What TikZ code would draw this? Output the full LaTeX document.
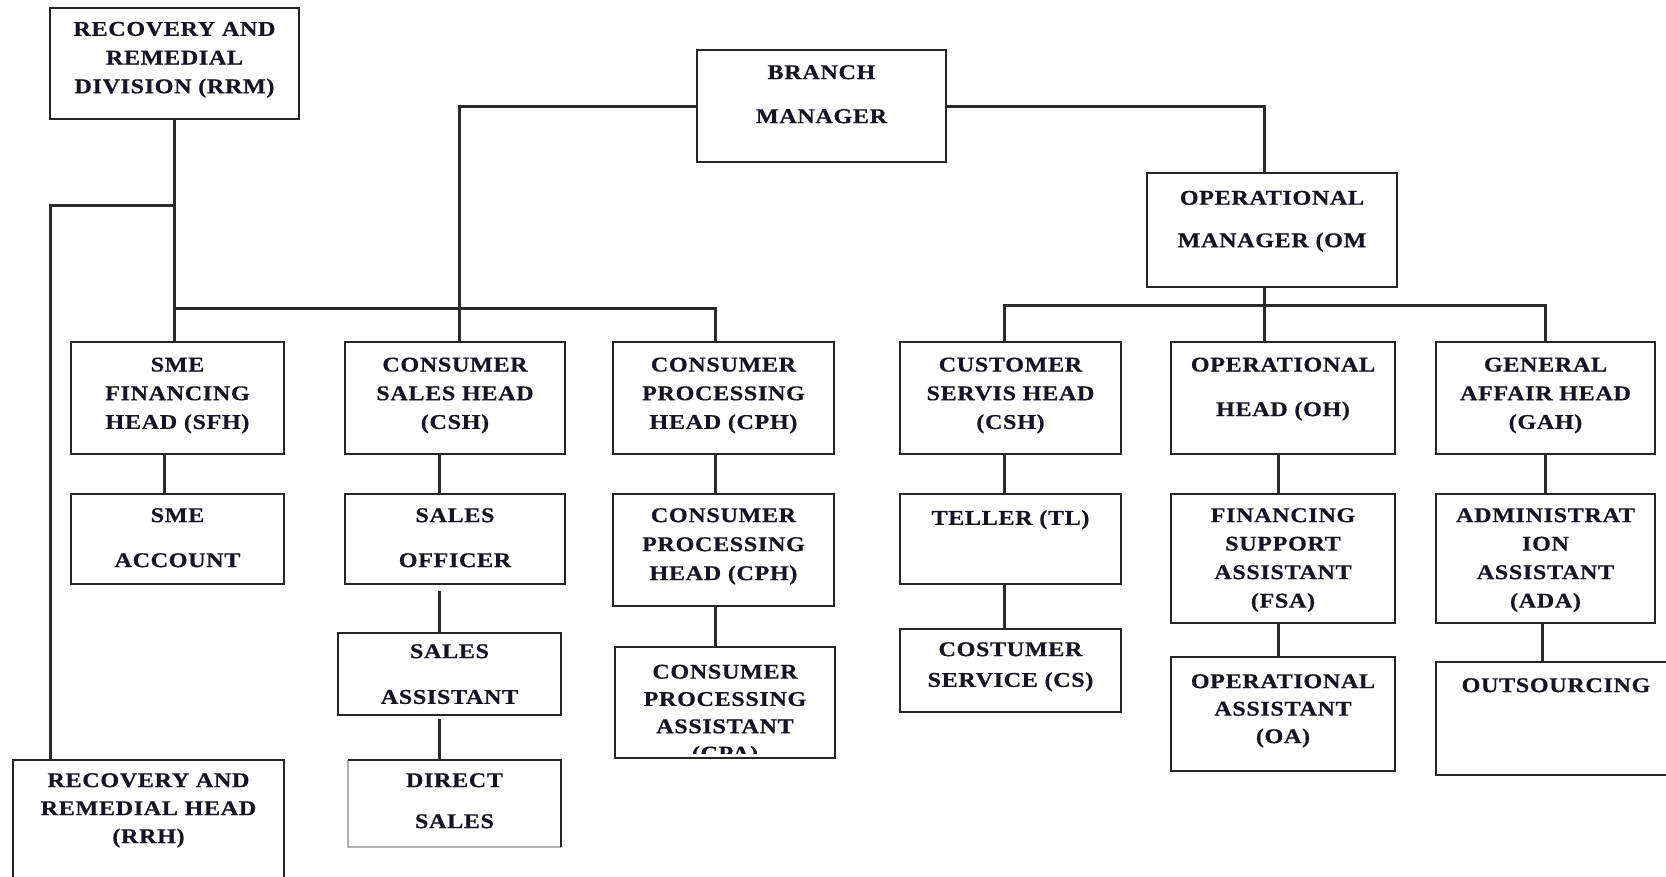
\documentclass[tikz,border=0pt]{standalone}
\usepackage{fontspec}
\newfontfamily\lblfont{Liberation Serif}[FakeStretch=1.15, LetterSpace=3, BoldFeatures={FakeBold=0.5}]
\definecolor{boxc}{HTML}{252525}
\definecolor{linec}{HTML}{2A2A2A}
\definecolor{txtc}{HTML}{141424}
\definecolor{lightc}{HTML}{B0B0B0}
\newcommand\mkbox[5]{\node[box, minimum width={#4-#2}, minimum height={#5-#3}] (#1) at (#2,#3) {};}
\newcommand\mklbl[5]{\node[lbl=#4] (#1-t) at (#2,#3) {#5};}
\begin{document}
\begin{tikzpicture}[x=1pt,y=-1pt,
  box/.style={draw=boxc, line width=2.6pt, inner sep=0pt, outer sep=0pt, anchor=north west},
  lbl/.style={text=txtc, align=center, anchor=north, inner sep=0pt, font=\lblfont\bfseries\fontsize{21}{#1}\selectfont},
  lbl/.default=28.7,
  wire/.style={draw=linec, line width=3pt}]
\useasboundingbox (0,0) rectangle (1666,876);
\clip (0,0) rectangle (1666,876);
\fill[white] (0,0) rectangle (1666,876);

% boxes
\mkbox{rrm}{50}{8}{299}{119}
\mkbox{bm}{697}{50}{946}{162}
\mkbox{om}{1147}{173}{1397}{287}
\mkbox{sfh}{71}{342}{284}{454}
\mkbox{csh}{345}{342}{565}{454}
\mkbox{cph}{613}{342}{834}{454}
\mkbox{cus}{900}{342}{1121}{454}
\mkbox{oh}{1171}{342}{1395}{454}
\mkbox{gah}{1436}{342}{1655}{454}
\mkbox{sme}{71}{494}{284}{584}
\mkbox{so}{345}{494}{565}{584}
\mkbox{cphb}{613}{494}{834}{606}
\mkbox{tl}{900}{494}{1121}{584}
\mkbox{fsa}{1171}{494}{1395}{623}
\mkbox{ada}{1436}{494}{1655}{623}
\mkbox{sa}{338}{633}{561}{715}
\mkbox{cpa}{615}{647}{835}{758}
\mkbox{cs}{900}{629}{1121}{712}
\mkbox{oa}{1171}{657}{1395}{771}
\mkbox{out}{1436}{662}{1676}{775}
\mkbox{rrh}{13}{760}{284}{900}
\node[inner sep=0pt, outer sep=0pt, anchor=north west, minimum width=213, minimum height=87] (ds) at (348,760) {};
\draw[lightc, line width=2pt] (ds.north west) -- (ds.south west) -- (ds.south east);
\draw[boxc, line width=2.6pt] (ds.south east) -- (ds.north east) -- (ds.north west);

% labels
\mklbl{rrm}{174.5}{21.7}{28.7}{RECOVERY AND\\REMEDIAL\\DIVISION (RRM)}
\mklbl{bm}{821.5}{65}{44}{BRANCH\\MANAGER}
\mklbl{om}{1272}{190.6}{42.5}{OPERATIONAL\\MANAGER (OM}
\mklbl{sfh}{177.5}{357.4}{28.7}{SME\\FINANCING\\HEAD (SFH)}
\mklbl{csh}{455}{357.4}{28.7}{CONSUMER\\SALES HEAD\\(CSH)}
\mklbl{cph}{723.5}{357.4}{28.7}{CONSUMER\\PROCESSING\\HEAD (CPH)}
\mklbl{cus}{1010.5}{357.4}{28.7}{CUSTOMER\\SERVIS HEAD\\(CSH)}
\mklbl{oh}{1283}{357.4}{44.6}{OPERATIONAL\\HEAD (OH)}
\mklbl{gah}{1545.5}{357.4}{28.7}{GENERAL\\AFFAIR HEAD\\(GAH)}
\mklbl{sme}{177.5}{508}{45}{SME\\ACCOUNT}
\mklbl{so}{455}{508}{45}{SALES\\OFFICER}
\mklbl{cphb}{723.5}{508}{29}{CONSUMER\\PROCESSING\\HEAD (CPH)}
\mklbl{tl}{1010.5}{510}{28.7}{TELLER (TL)}
\mklbl{fsa}{1283}{508}{28.5}{FINANCING\\SUPPORT\\ASSISTANT\\(FSA)}
\mklbl{ada}{1545.5}{508}{28.5}{ADMINISTRAT\\ION\\ASSISTANT\\(ADA)}
\mklbl{sa}{449.5}{644}{45.7}{SALES\\ASSISTANT}
\begin{scope}
\clip (617,649) rectangle (833,753);
\mklbl{cpa}{725}{664.5}{27.3}{CONSUMER\\PROCESSING\\ASSISTANT\\(CPA)}
\end{scope}
\mklbl{cs}{1010.5}{642}{30.7}{COSTUMER\\SERVICE (CS)}
\mklbl{oa}{1283}{674}{27.5}{OPERATIONAL\\ASSISTANT\\(OA)}
\mklbl{out}{1556}{678}{28.7}{OUTSOURCING}
\mklbl{ds}{454.5}{773}{41}{DIRECT\\SALES}
\mklbl{rrh}{148.5}{773}{28}{RECOVERY AND\\REMEDIAL HEAD\\(RRH)}

% connectors: left side
\coordinate (busL) at (174.5,308);
\coordinate (busR) at (715,308);
\coordinate (rrmJ) at (174.5,205);
\coordinate (rrmB) at (50,205);
\draw[wire] (rrm.south) -- (rrm.south |- sfh.north);
\draw[wire] (rrmJ) -- (rrmB) -- (rrmB |- rrh.north);
\draw[wire] (busL) -- (busR) -- (busR |- cph.north);
\draw[wire] (bm.west) -| ([xshift=4pt]csh.north);
% right side
\draw[wire] (bm.east) -| ([xshift=-8pt]om.north);
\draw[wire] ([xshift=-8pt]om.south) -- ([xshift=-8pt]om.south |- oh.north);
\coordinate (busR2) at (1004,305);
\draw[wire] (cus.north -| busR2) -- (busR2) -| (gah.north);
% vertical chains
\draw[wire] ([xshift=-13pt]sfh.south) -- ([xshift=-13pt]sfh.south |- sme.north);
\draw[wire] ([xshift=-16pt]csh.south) -- ([xshift=-16pt]csh.south |- so.north);
\draw[wire] ([xshift=-16pt,yshift=-7pt]so.south) -- ([xshift=-16pt]so.south |- sa.north);
\draw[wire] ([xshift=-10pt,yshift=-4pt]sa.south) -- ([xshift=-10pt]sa.south |- ds.north);
\draw[wire] ([xshift=-8.5pt]cph.south) -- ([xshift=-8.5pt]cph.south |- cphb.north);
\draw[wire] ([xshift=-8.5pt]cphb.south) -- ([xshift=-8.5pt]cphb.south |- cpa.north);
\draw[wire] ([xshift=-6.5pt]cus.south) -- ([xshift=-6.5pt]cus.south |- tl.north);
\draw[wire] ([xshift=-6.5pt]tl.south) -- ([xshift=-6.5pt]tl.south |- cs.north);
\draw[wire] ([xshift=-5pt]oh.south) -- ([xshift=-5pt]oh.south |- fsa.north);
\draw[wire] ([xshift=-5pt]fsa.south) -- ([xshift=-5pt]fsa.south |- oa.north);
\draw[wire] (gah.south) -- (gah.south |- ada.north);
\draw[wire] ([xshift=-3pt]ada.south) -- ([xshift=-3pt]ada.south |- out.north);
\end{tikzpicture}
\end{document}
